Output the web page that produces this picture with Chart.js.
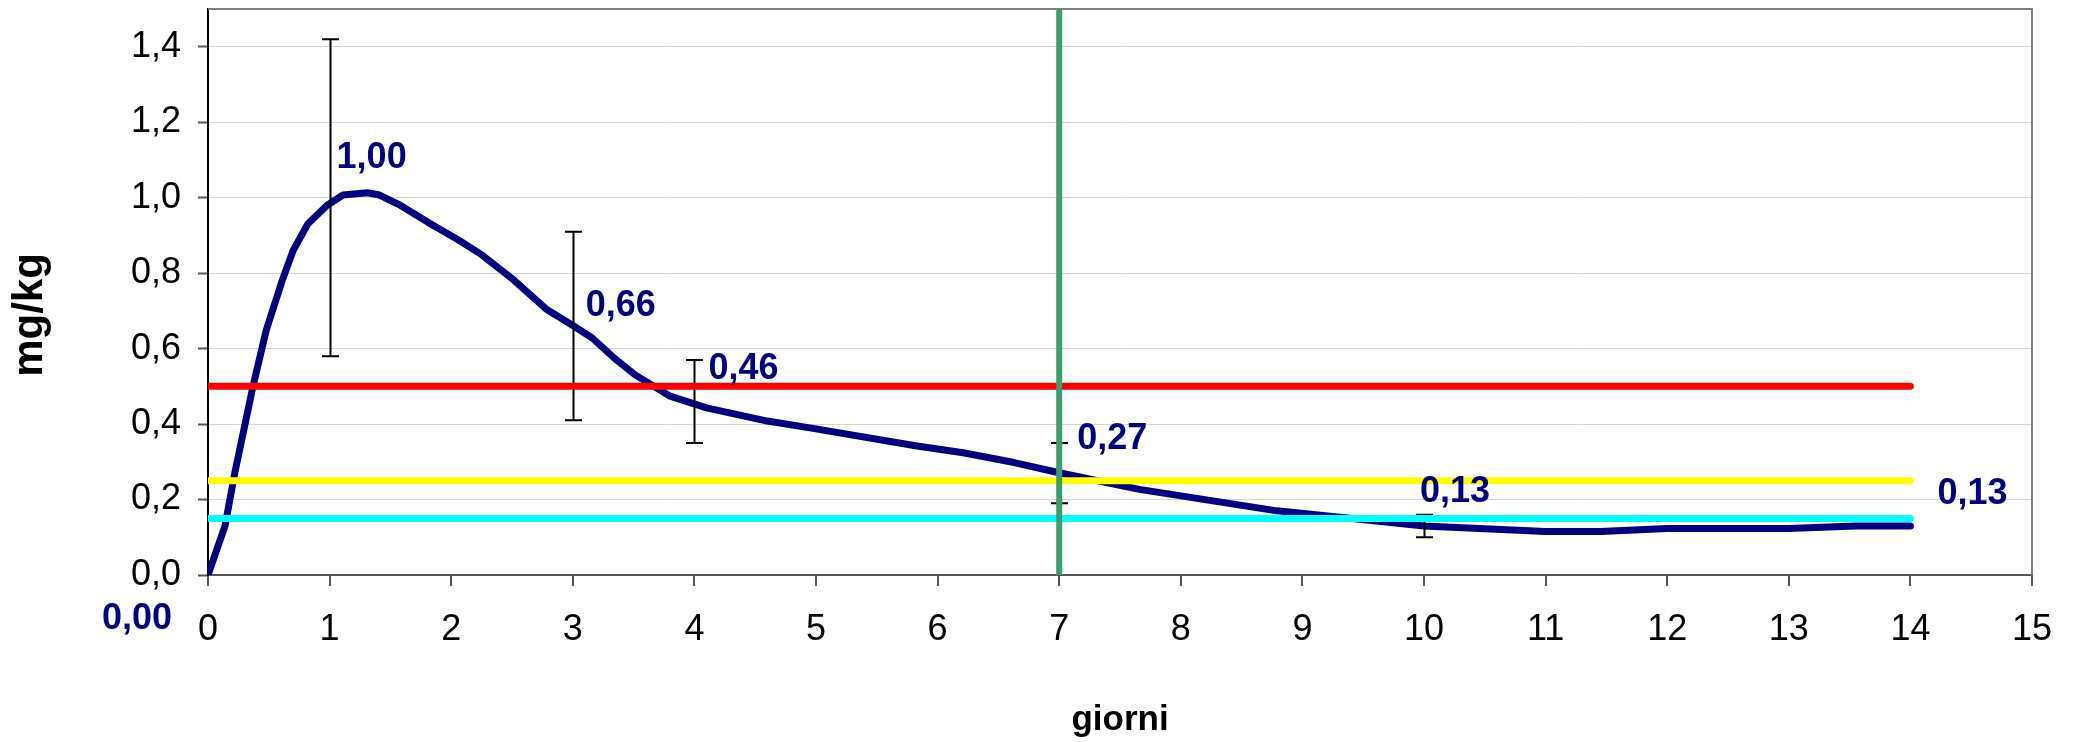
<!DOCTYPE html>
<html>
<head>
<meta charset="utf-8">
<script src="https://cdn.jsdelivr.net/npm/chart.js@4/dist/chart.umd.min.js"></script>
<style>
  html, body { margin: 0; padding: 0; background: #ffffff; }
  #wrap { width: 2073px; height: 742px; }
</style>
</head>
<body>
<div id="wrap"><canvas id="chart_giorni" width="2073" height="742"></canvas></div>
<script>
// curva media (mg/kg)
const curveDays = [0, 0.14, 0.22, 0.37, 0.48, 0.61, 0.70, 0.82, 0.98, 1.11, 1.31, 1.41, 1.58, 1.85, 2.05,
  2.25, 2.51, 2.78, 3.02, 3.16, 3.34, 3.51, 3.80, 4.10, 4.60, 4.95, 5.83, 6.21, 6.63, 7.0,
  7.66, 8.79, 9.47, 10.0, 11.0, 11.45, 12.0, 13.0, 13.55, 14.0];
const curveValues = [0, 0.13, 0.27, 0.50, 0.65, 0.78, 0.86, 0.93, 0.98, 1.007, 1.013, 1.007, 0.98, 0.927, 0.89,
  0.849, 0.783, 0.705, 0.657, 0.628, 0.575, 0.531, 0.474, 0.443, 0.408, 0.39, 0.342, 0.324, 0.298, 0.271,
  0.227, 0.17, 0.148, 0.13, 0.115, 0.115, 0.123, 0.123, 0.13, 0.13];

// campionamenti con barre d'errore
const sampleDays = [0, 1, 3, 4, 7, 10, 14];
const sampleMeans = [0, 1.00, 0.66, 0.46, 0.27, 0.13, 0.13];
const sampleErr = [0, 0.42, 0.25, 0.11, 0.08, 0.03, 0];

// limiti orizzontali e giorno di riferimento
const limitDays = [0, 14];
const limitRed = 0.5;
const limitYellow = 0.25;
const limitCyan = 0.15;
const markerDay = 7;

const xTitle = "giorni";
const yTitle = "mg/kg";

const FONT = "'Liberation Sans', Arial, sans-serif";
const comma = (v, d) => v.toFixed(d).replace(".", ",");

// posizione delle etichette rispetto al punto: dx, dy, allineamento
const labelPos = [[-36, 44, "right"], [7, -40, "left"], [13, -20, "left"], [14, -32, "left"],
  [18, -34, "left"], [-4, -34, "left"], [27, -32, "left"]];

const extras = {
  id: "extras",
  beforeDatasetsDraw(chart) {
    const { ctx, chartArea: a } = chart;
    ctx.save();
    ctx.strokeStyle = "#808080";
    ctx.lineWidth = 2;
    ctx.beginPath();
    ctx.moveTo(a.left, a.top);
    ctx.lineTo(a.right, a.top);
    ctx.lineTo(a.right, a.bottom);
    ctx.stroke();
    ctx.restore();
  },
  afterDatasetDraw(chart, args) {
    if (args.index !== 4) return; // dopo la curva blu
    const { ctx, scales: { x, y } } = chart;
    ctx.save();
    ctx.strokeStyle = "#000000";
    ctx.lineWidth = 2;
    sampleDays.forEach((d, i) => {
      if (!sampleErr[i]) return;
      const px = Math.round(x.getPixelForValue(d)) + 0.5;
      const top = y.getPixelForValue(sampleMeans[i] + sampleErr[i]);
      const bot = y.getPixelForValue(sampleMeans[i] - sampleErr[i]);
      ctx.beginPath();
      ctx.moveTo(px, top); ctx.lineTo(px, bot);
      ctx.moveTo(px - 8.5, top); ctx.lineTo(px + 8.5, top);
      ctx.moveTo(px - 8.5, bot); ctx.lineTo(px + 8.5, bot);
      ctx.stroke();
    });
    ctx.restore();
  },
  afterDatasetsDraw(chart) {
    const { ctx, scales: { x, y } } = chart;
    ctx.save();
    ctx.fillStyle = "#000080";
    ctx.font = "bold 36px " + FONT;
    ctx.textBaseline = "middle";
    sampleDays.forEach((d, i) => {
      const p = labelPos[i];
      ctx.textAlign = p[2];
      ctx.fillText(comma(sampleMeans[i], 2), x.getPixelForValue(d) + p[0], y.getPixelForValue(sampleMeans[i]) + p[1]);
    });
    ctx.restore();
  },
  afterDraw(chart) {
    const { ctx } = chart;
    ctx.save();
    ctx.translate(30, 315);
    ctx.rotate(-Math.PI / 2);
    ctx.fillStyle = "#000000";
    ctx.font = "bold 42px " + FONT;
    ctx.textAlign = "center";
    ctx.textBaseline = "middle";
    ctx.fillText(yTitle, 0, 0);
    ctx.restore();
  }
};

const pts = (xs, ys) => xs.map((v, i) => ({ x: v, y: ys[i] }));
const flat = (v) => limitDays.map((d) => ({ x: d, y: v }));

const lineStyle = (color, w) => ({
  borderColor: color,
  backgroundColor: color,
  borderWidth: w,
  pointRadius: 0,
  fill: false,
  tension: 0,
  borderCapStyle: "round",
  borderJoinStyle: "round",
  showLine: true
});

var ctx = document.getElementById("chart_giorni").getContext("2d");

var myChart = new Chart(ctx, {
  type: "scatter",
  data: {
    datasets: [
      Object.assign({ label: "giorno 7", data: [{ x: markerDay, y: 0 }, { x: markerDay, y: 1.5 }] }, lineStyle("#3a9d6b", 6), { borderCapStyle: "butt" }),
      Object.assign({ label: "0,5", data: flat(limitRed) }, lineStyle("#ff0000", 7)),
      Object.assign({ label: "0,25", data: flat(limitYellow) }, lineStyle("#ffff00", 7)),
      Object.assign({ label: "0,15", data: flat(limitCyan) }, lineStyle("#00ffff", 7)),
      Object.assign({ label: "media", data: pts(curveDays, curveValues) }, lineStyle("#000080", 7))
    ]
  },
  options: {
    responsive: false,
    animation: false,
    devicePixelRatio: 1,
    layout: {
      padding: { top: 9, right: 41, left: 0, bottom: 0 }
    },
    plugins: {
      legend: { display: false },
      tooltip: { enabled: false }
    },
    scales: {
      x: {
        type: "linear",
        min: 0,
        max: 15,
        afterFit: (s) => { s.height = 167; s.paddingLeft = 0; s.paddingRight = 0; },
        border: { color: "#555555", width: 2 },
        grid: { drawOnChartArea: false, drawTicks: true, tickLength: 11, color: "#555555", lineWidth: 2 },
        ticks: {
          stepSize: 1,
          padding: 22,
          color: "#000000",
          font: { family: FONT, size: 36 },
          maxRotation: 0,
          autoSkip: false
        },
        title: {
          display: true,
          text: xTitle,
          color: "#000000",
          font: { family: FONT, size: 35, weight: "bold", lineHeight: 1.2 },
          padding: { top: 0, bottom: 1 }
        }
      },
      y: {
        type: "linear",
        min: 0,
        max: 1.5,
        afterFit: (s) => { s.width = 208; s.paddingTop = 0; s.paddingBottom = 0; },
        border: { color: "#000000", width: 2 },
        grid: { color: "#d4d4d4", lineWidth: 1, tickLength: 10, tickColor: "#555555", tickWidth: 2 },
        ticks: {
          stepSize: 0.2,
          includeBounds: false,
          padding: 17,
          color: "#000000",
          font: { family: FONT, size: 36 },
          callback: (v) => comma(v, 1)
        }
      }
    }
  },
  plugins: [extras]
});
</script>
</body>
</html>
